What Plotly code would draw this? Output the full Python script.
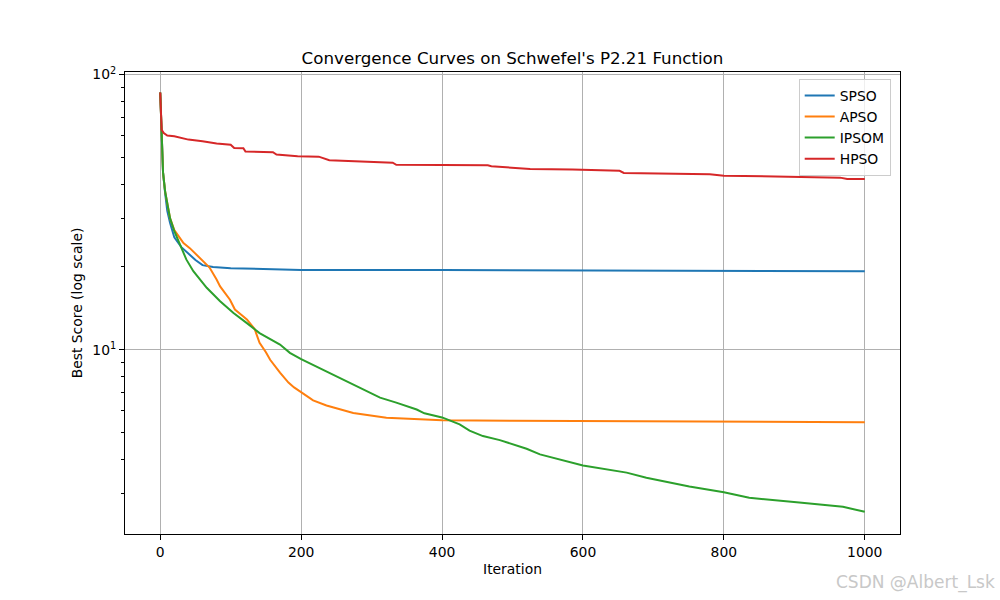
import plotly.graph_objects as go

# ---- data ----
spso_iter = [0, 2, 4, 7, 10, 14, 20, 30, 40, 50, 60, 75, 100, 150, 200, 400, 600, 800, 1000]
spso_val = [86, 56, 44, 37, 32, 28.9, 25.6, 23.6, 22.3, 21.2, 20.3, 20.0, 19.8, 19.6, 19.5, 19.5, 19.4, 19.35, 19.3]

apso_iter = [0, 2, 4, 7, 10, 14, 20, 28, 33, 42, 56, 62, 70, 80, 85, 99, 106, 115, 123, 134, 141,
             150, 156, 170, 176, 182, 190, 198, 207, 217, 236, 274, 321, 400, 500, 600, 800, 1000]
apso_val = [86, 55, 44, 37.5, 33.5, 30, 27.2, 25.5, 24.4, 23.4, 21.6, 20.8, 19.9, 18.0, 17.0, 15.2, 14.0,
            13.4, 12.9, 11.9, 10.6, 9.8, 9.2, 8.26, 7.9, 7.6, 7.3, 7.08, 6.8, 6.55, 6.28, 5.9, 5.66,
            5.55, 5.52, 5.51, 5.48, 5.46]

ipsom_iter = [0, 2, 4, 7, 10, 14, 20, 28, 37, 47, 56, 66, 85, 104, 123, 141, 170, 184, 200, 227, 264,
              312, 335, 364, 375, 400, 425, 439, 458, 482, 520, 539, 600, 662, 690, 751, 800, 836,
              907, 969, 1000]
ipsom_val = [86, 55, 44, 37.5, 33.5, 30, 27.0, 24.1, 21.3, 19.3, 18.0, 16.8, 15.0, 13.6, 12.5, 11.5,
             10.45, 9.75, 9.25, 8.55, 7.69, 6.7, 6.43, 6.07, 5.88, 5.68, 5.36, 5.09, 4.86, 4.7, 4.37,
             4.17, 3.8, 3.58, 3.43, 3.19, 3.04, 2.9, 2.79, 2.69, 2.58]

hpso_iter = [0, 1, 2, 5, 10, 20, 30, 40, 60, 80, 100, 105, 118, 121, 160, 165, 195, 225, 240, 290,
             330, 335, 465, 470, 495, 525, 585, 624, 652, 658, 780, 800, 900, 965, 975, 1000]
hpso_val = [86, 66, 63, 61.3, 60, 59.6, 58.8, 58, 57.2, 56.1, 55.6, 54.1, 54.0, 52.5, 52.2, 51.2, 50.5,
            50.3, 48.8, 48.1, 47.8, 47.0, 46.8, 46.4, 46.0, 45.4, 45.2, 44.8, 44.7, 43.9, 43.4, 42.9,
            42.4, 42.2, 41.7, 41.7]

series = [
    ("SPSO", spso_iter, spso_val, "#1f77b4"),
    ("APSO", apso_iter, apso_val, "#ff7f0e"),
    ("IPSOM", ipsom_iter, ipsom_val, "#2ca02c"),
    ("HPSO", hpso_iter, hpso_val, "#d62728"),
]

x_ticks = [0, 200, 400, 600, 800, 1000]
y_ticks = [10, 100]
y_ticktext = ["10<sup>1</sup>", "10<sup>2</sup>"]
y_minor = [3, 4, 5, 6, 7, 8, 9, 20, 30, 40, 50, 60, 70, 80, 90]

FONT = "DejaVu Sans"

fig = go.Figure()
for name, xs, ys, col in series:
    fig.add_trace(go.Scatter(x=xs, y=ys, mode="lines", name=name,
                             line=dict(color=col, width=2)))

fig.update_layout(
    width=1000, height=600,
    margin=dict(l=125, r=100, t=72, b=66),
    paper_bgcolor="white", plot_bgcolor="white",
    font=dict(family=FONT, size=13.9, color="black"),
    title=dict(text="Convergence Curves on Schwefel's P2.21 Function",
               x=0.5125, xanchor="center", y=0.903, yanchor="middle",
               font=dict(size=16.7, family=FONT, color="black")),
    showlegend=True,
    legend=dict(x=0.988, y=0.985, xanchor="right", yanchor="top",
                bgcolor="rgba(255,255,255,0.8)", bordercolor="#cccccc", borderwidth=1,
                font=dict(size=13.9, family=FONT), tracegroupgap=2),
)

fig.update_xaxes(
    range=[-50, 1050], tickvals=x_ticks, ticks="outside", ticklen=5, tickcolor="black",
    tickfont=dict(size=13.9, family=FONT),
    showline=True, mirror=True, linecolor="black", linewidth=1,
    showgrid=True, gridcolor="#b0b0b0", gridwidth=1, zeroline=False,
    title=dict(text="Iteration", font=dict(size=13.9, family=FONT), standoff=5),
)
fig.update_yaxes(
    type="log", range=[0.331, 2.009], tickvals=y_ticks, ticktext=y_ticktext,
    ticks="outside", ticklen=5, tickcolor="black",
    tickfont=dict(size=13.9, family=FONT),
    showline=True, mirror=True, linecolor="black", linewidth=1,
    showgrid=True, gridcolor="#b0b0b0", gridwidth=1, zeroline=False,
    minor=dict(tickvals=y_minor, ticks="outside", ticklen=3, tickcolor="black", showgrid=False),
    title=dict(text="Best Score (log scale)", font=dict(size=13.9, family=FONT), standoff=6),
)

fig.add_annotation(text="CSDN @Albert_Lsk", xref="paper", yref="paper",
                   x=(997 - 125) / 775, y=(534 - 582) / 462, xanchor="right", yanchor="middle",
                   showarrow=False, font=dict(size=17, family=FONT, color="#c8c8c8"))

fig.write_html("out.html")
